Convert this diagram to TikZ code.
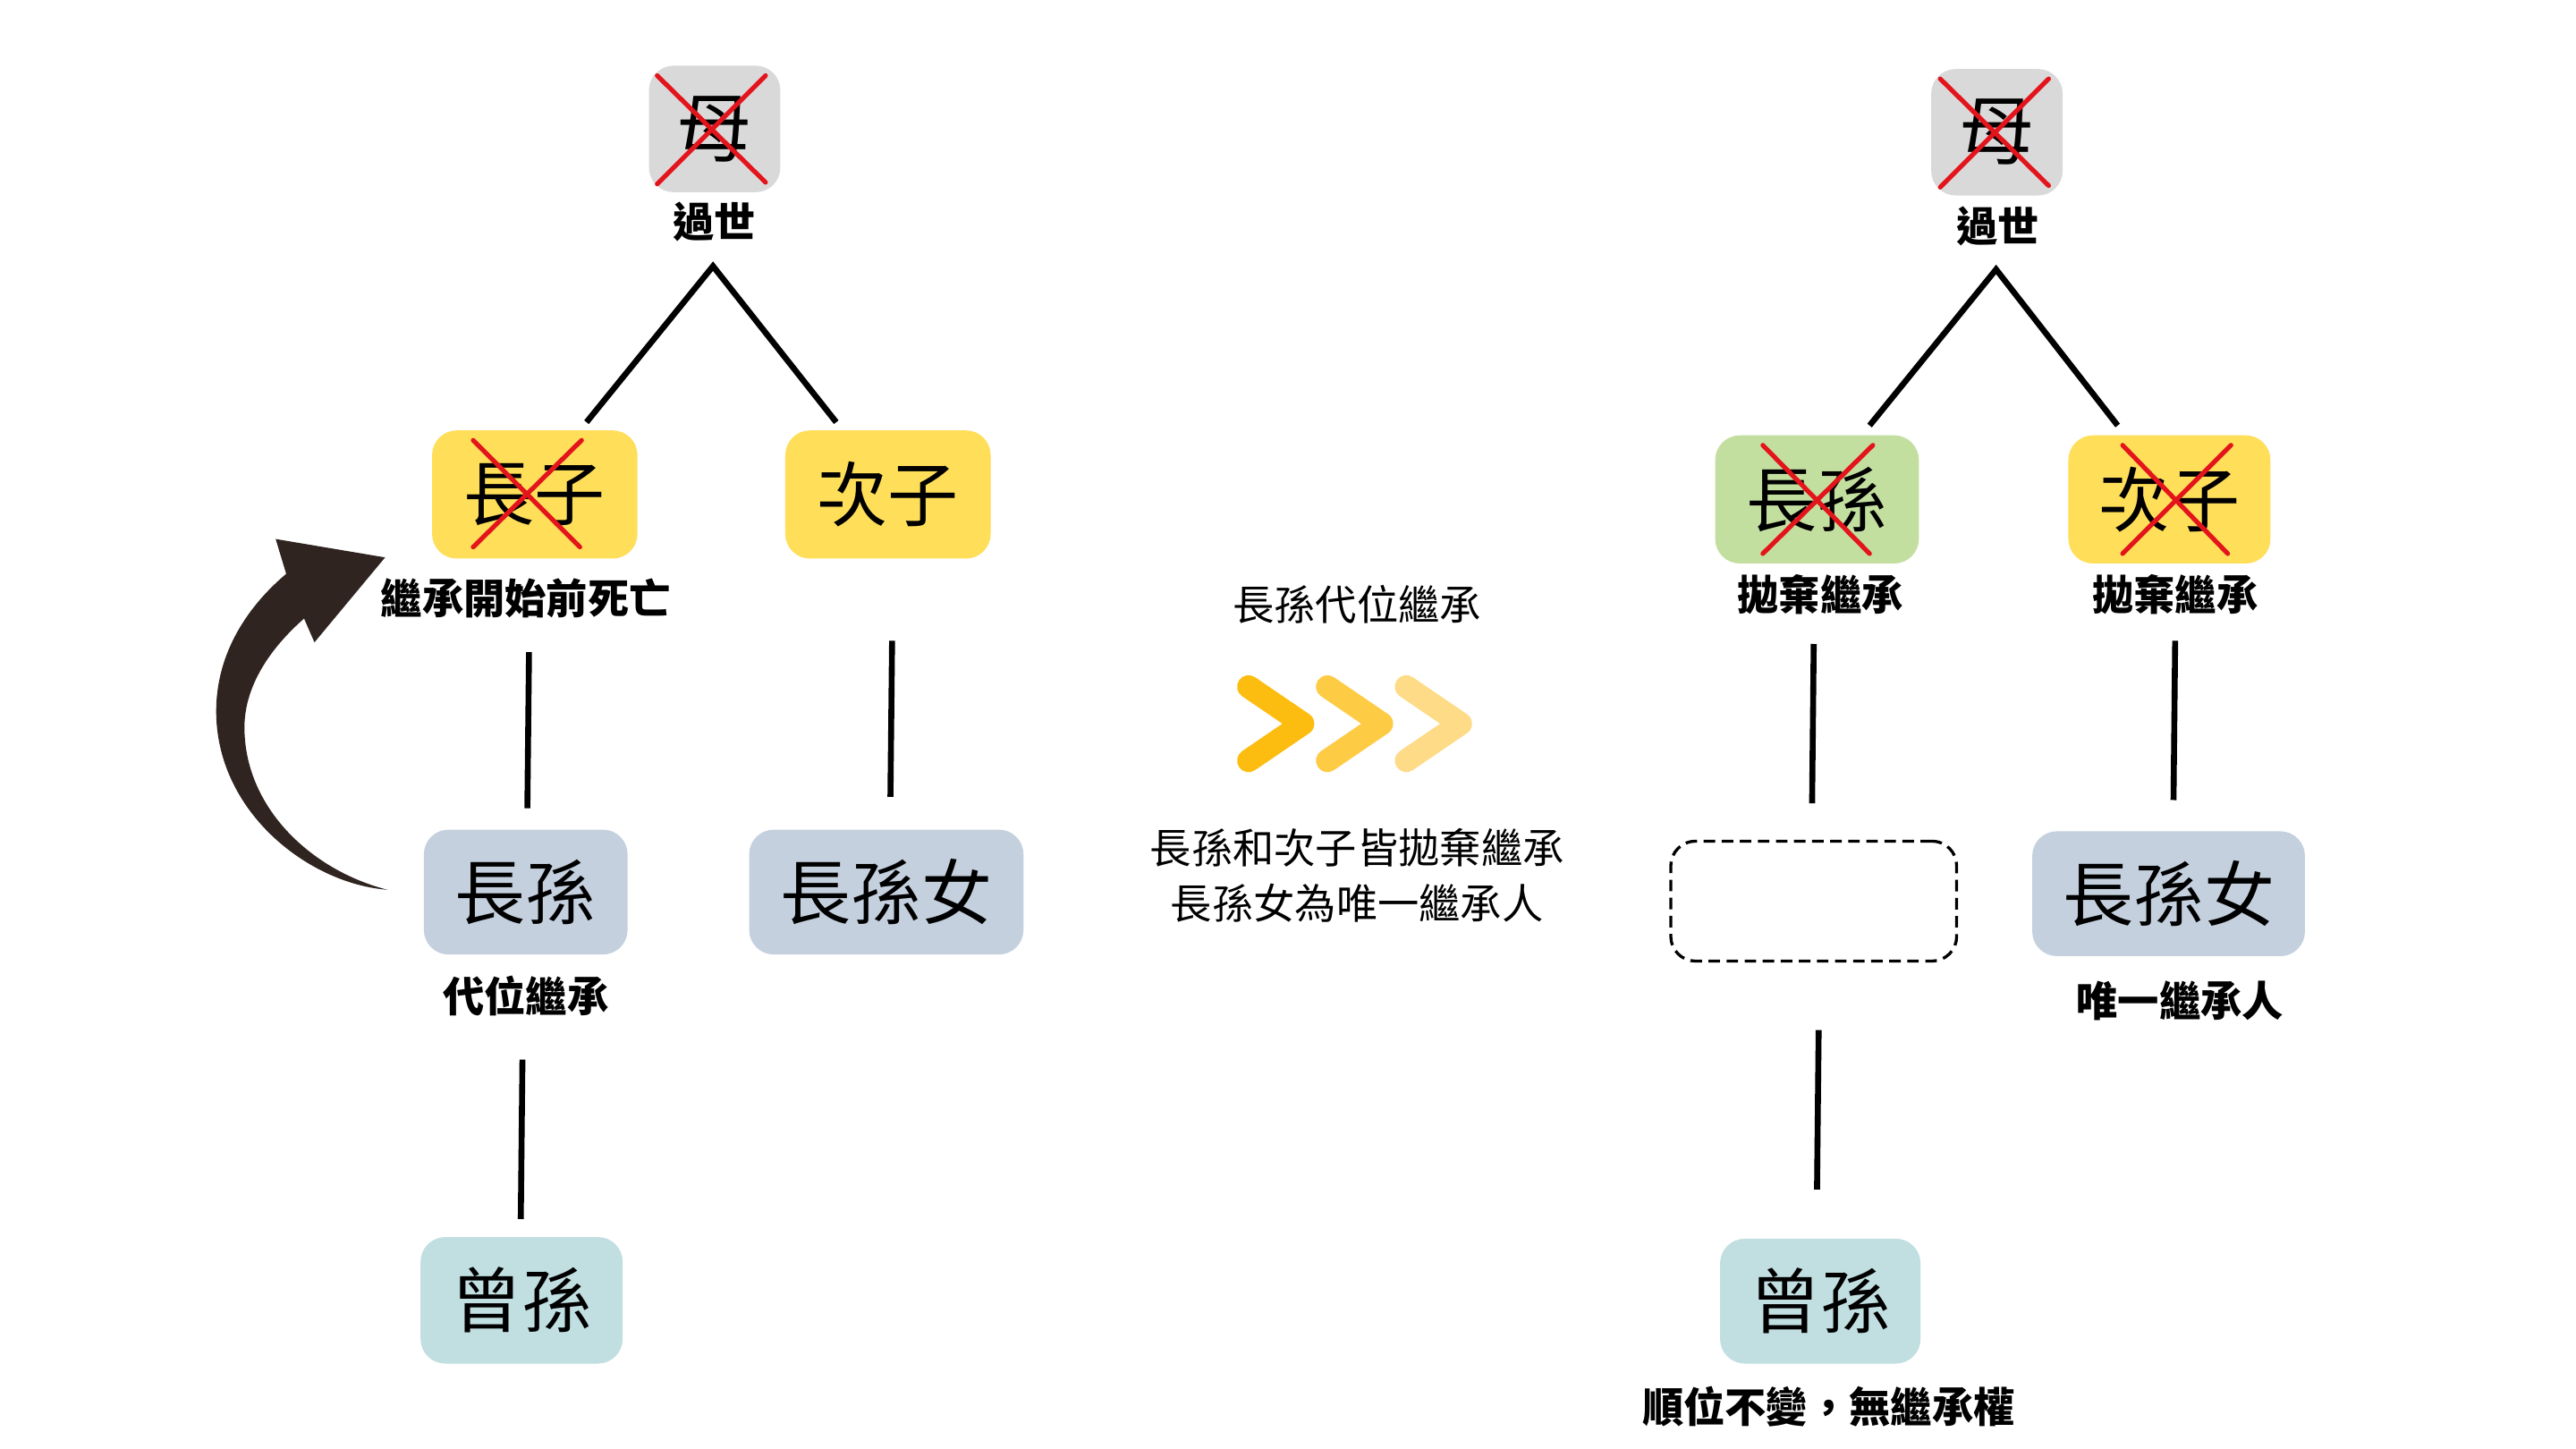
\documentclass[tikz,border=0pt]{standalone}
\usepackage{fontspec}
\newfontfamily\cjk{Noto Sans CJK TC}
\definecolor{boxgray}{HTML}{D9D9D9}
\definecolor{boxyellow}{HTML}{FFDE59}
\definecolor{boxblue}{HTML}{C4D0DD}
\definecolor{boxteal}{HTML}{C1DEE1}
\definecolor{boxgreen}{HTML}{C3DF9F}
\definecolor{xred}{HTML}{E3141B}
\definecolor{arrowc}{HTML}{2F2420}
\definecolor{chevA}{HTML}{FDBD10}
\definecolor{chevB}{HTML}{FECB45}
\definecolor{chevC}{HTML}{FEDB86}
\tikzset{
  box/.style={rectangle, rounded corners=15pt, inner sep=0pt, font=\cjk\fontsize{43}{43}\selectfont},
  mbox/.style={box, fill=boxgray, minimum width=80pt, minimum height=77pt, font=\cjk\fontsize{46}{46}\selectfont},
  lbl/.style={inner sep=0pt, font=\cjk\bfseries\fontsize{25.2}{25.2}\selectfont},
  txt/.style={inner sep=0pt, font=\cjk\fontsize{25.2}{25.2}\selectfont},
  conn/.style={line width=3.6pt, black},
  xline/.style={line width=2.8pt, xred, line cap=round},
  chev/.style={line width=14pt, line cap=round, line join=round},
}
\begin{document}
\begin{tikzpicture}[x=1pt,y=-1pt]
\useasboundingbox[fill=white] (0,0) rectangle (1568,882);

% ---------- left tree ----------
\node[mbox] (m1) at (435,78.5) {母};
\node[lbl] (d1) at (435,135) {過世};
\node[box, fill=boxyellow, minimum width=125pt, minimum height=78pt] (c1) at (325.5,301) {長子};
\node[box, fill=boxyellow, minimum width=125pt, minimum height=78pt] (c2) at (540.5,301) {次子};
\node[lbl] (l1) at (320,364) {繼承開始前死亡};
\node[box, fill=boxblue, minimum width=124pt, minimum height=76pt] (g1) at (320,543) {長孫};
\node[box, fill=boxblue, minimum width=167pt, minimum height=76pt] (g2) at (539.5,543) {長孫女};
\node[lbl] (l2) at (320,606) {代位繼承};
\node[box, fill=boxteal, minimum width=123pt, minimum height=77pt] (gg1) at (317.5,791.5) {曾孫};

\coordinate (a1) at (434,162);
\coordinate (a1l) at (357,257);
\coordinate (a1r) at (509,257);
\draw[conn] (a1l) -- (a1) -- (a1r);
\coordinate (v1t) at (322,397); \coordinate (v1b) at (321,492);
\coordinate (v2t) at (543,390); \coordinate (v2b) at (542,485);
\coordinate (v3t) at (318,645); \coordinate (v3b) at (317,742);
\draw[conn] (v1t) -- (v1b);
\draw[conn] (v2t) -- (v2b);
\draw[conn] (v3t) -- (v3b);

% red crosses
\draw[xline] (400,46) -- (466,111);
\draw[xline] (400,112) -- (466,46);
\draw[xline] (288,268) -- (353,333);
\draw[xline] (288,333) -- (354,268);

% curved arrow
\fill[arrowc] (235.9,541.6) .. controls (188,538) and (131,494) .. (131.6,431.9)
  .. controls (132,396) and (152,368) .. (174.2,349.3)
  -- (167.8,328.1) -- (234.4,339.3) -- (191.4,391) -- (185.1,376.5)
  .. controls (164,395) and (148.8,418) .. (148.8,442.7)
  .. controls (148.8,492) and (190,530) .. (235.9,541.6) -- cycle;

% ---------- middle ----------
\node[txt] (t1) at (826,368) {長孫代位繼承};
\draw[chev, chevA] (760,418) -- (793,440.5) -- (760,463);
\draw[chev, chevB] (808,418) -- (841,440.5) -- (808,463);
\draw[chev, chevC] (856,418) -- (889,440.5) -- (856,463);
\node[txt] (t2) at (826,516) {長孫和次子皆拋棄繼承};
\node[txt] (t3) at (826,550) {長孫女為唯一繼承人};

% ---------- right tree ----------
\node[mbox] (m2) at (1215.5,80.5) {母};
\node[lbl] (d2) at (1216,138) {過世};
\node[box, fill=boxgreen, minimum width=124pt, minimum height=78pt] (r1) at (1106,304) {長孫};
\node[box, fill=boxyellow, minimum width=123pt, minimum height=78pt] (r2) at (1320.5,304) {次子};
\node[lbl] (l3) at (1108,362) {拋棄繼承};
\node[lbl] (l4) at (1324,362) {拋棄繼承};
\node[box, draw=black, line width=1.8pt, dash pattern=on 7pt off 4pt, minimum width=174pt, minimum height=73pt] (e1) at (1104,548.5) {};
\node[box, fill=boxblue, minimum width=166pt, minimum height=76pt] (r3) at (1320,544) {長孫女};
\node[lbl] (l5) at (1327,609) {唯一繼承人};
\node[box, fill=boxteal, minimum width=122pt, minimum height=76pt] (r4) at (1108,792) {曾孫};
\node[lbl] (l6) at (1113,856) {順位不變，無繼承權};

\coordinate (a2) at (1215,164);
\coordinate (a2l) at (1138,259);
\coordinate (a2r) at (1289,259);
\draw[conn] (a2l) -- (a2) -- (a2r);
\coordinate (w1t) at (1104,392); \coordinate (w1b) at (1103,489);
\coordinate (w2t) at (1324,390); \coordinate (w2b) at (1323,487);
\coordinate (w3t) at (1107,627); \coordinate (w3b) at (1106,724);
\draw[conn] (w1t) -- (w1b);
\draw[conn] (w2t) -- (w2b);
\draw[conn] (w3t) -- (w3b);

\draw[xline] (1181,48) -- (1247,113);
\draw[xline] (1181,114) -- (1247,48);
\draw[xline] (1073,271) -- (1138,337);
\draw[xline] (1073,337) -- (1140,271);
\draw[xline] (1292,271) -- (1356,337);
\draw[xline] (1292,337) -- (1358,271);
\end{tikzpicture}
\end{document}
